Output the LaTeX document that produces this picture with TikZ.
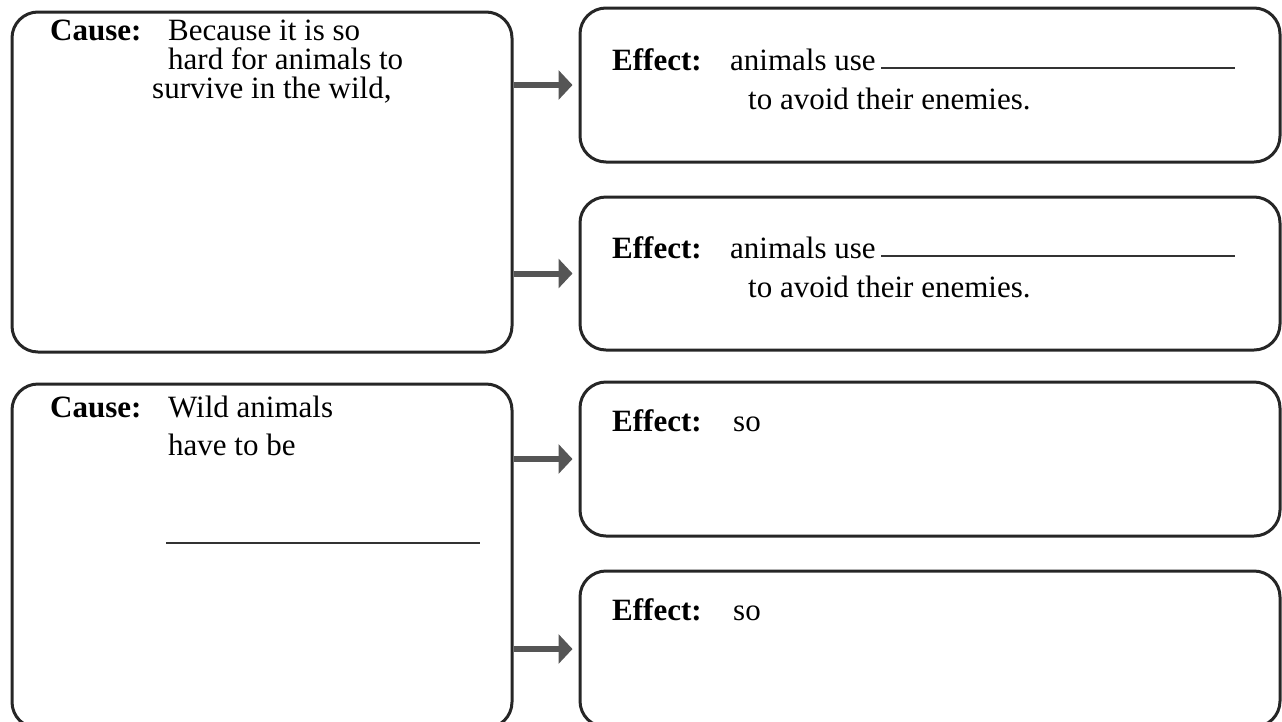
\documentclass[tikz,border=0pt]{standalone}
\usepackage{fontspec}
\setmainfont{Liberation Serif}
\usetikzlibrary{arrows.meta}
\definecolor{arrowgray}{HTML}{555555}
\begin{document}
\begin{tikzpicture}[x=1pt,y=-1pt,
  box/.style={draw=black!85,line width=3pt,rounded corners=26pt,rectangle,inner sep=0pt},
  arr/.style={draw=arrowgray,line width=6pt,-{Triangle[length=14pt,width=29pt]},shorten >=6pt},
  txt/.style={anchor=base west,inner sep=0pt,font=\fontsize{31}{29}\selectfont},
  blank/.style={line width=1.5pt,black!80}]
\useasboundingbox (0,0) rectangle (1282,721);
% boxes
\node[box,minimum width=500pt,minimum height=340pt] (c1) at (262,182) {};
\node[box,minimum width=700pt,minimum height=154pt] (e1) at (930,85) {};
\node[box,minimum width=700pt,minimum height=153pt] (e2) at (930,273.5) {};
\node[box,minimum width=500pt,minimum height=344pt] (c2) at (262,556) {};
\node[box,minimum width=700pt,minimum height=154pt] (e3) at (930,459) {};
\node[box,minimum width=700pt,minimum height=156pt] (e4) at (930,649) {};
% arrows
\draw[arr] (c1.east |- e1.west) -- (e1.west);
\draw[arr] (c1.east |- e2.west) -- (e2.west);
\draw[arr] (c2.east |- e3.west) -- (e3.west);
\draw[arr] (c2.east |- e4.west) -- (e4.west);
% cause 1 text
\node[txt] (c1l0) at (50,40) {\textbf{Cause:}};
\node[txt] (c1l1) at (168,40) {Because it is so};
\node[txt] (c1l2) at (168,69) {hard for animals to};
\node[txt] (c1l3) at (152,98) {survive in the wild,};
% effect 1
\node[txt] (e1l0) at (612,70) {\textbf{Effect:}};
\node[txt] (e1l1) at (730,70) {animals use};
\node[txt] (e1l2) at (748,109) {to avoid their enemies.};
\draw[blank] (881,68) -- (1235,68);
% effect 2
\node[txt] (e2l0) at (612,258) {\textbf{Effect:}};
\node[txt] (e2l1) at (730,258) {animals use};
\node[txt] (e2l2) at (748,297) {to avoid their enemies.};
\draw[blank] (881,256) -- (1235,256);
% cause 2
\node[txt] (c2l0) at (50,417) {\textbf{Cause:}};
\node[txt] (c2l1) at (168,417) {Wild animals};
\node[txt] (c2l2) at (168,455) {have to be};
\draw[blank] (166,543) -- (480,543);
% effect 3 and 4
\node[txt] (e3l0) at (612,431) {\textbf{Effect:}};
\node[txt] (e3l1) at (733,431) {so};
\node[txt] (e4l0) at (612,620) {\textbf{Effect:}};
\node[txt] (e4l1) at (733,620) {so};
\end{tikzpicture}
\end{document}
